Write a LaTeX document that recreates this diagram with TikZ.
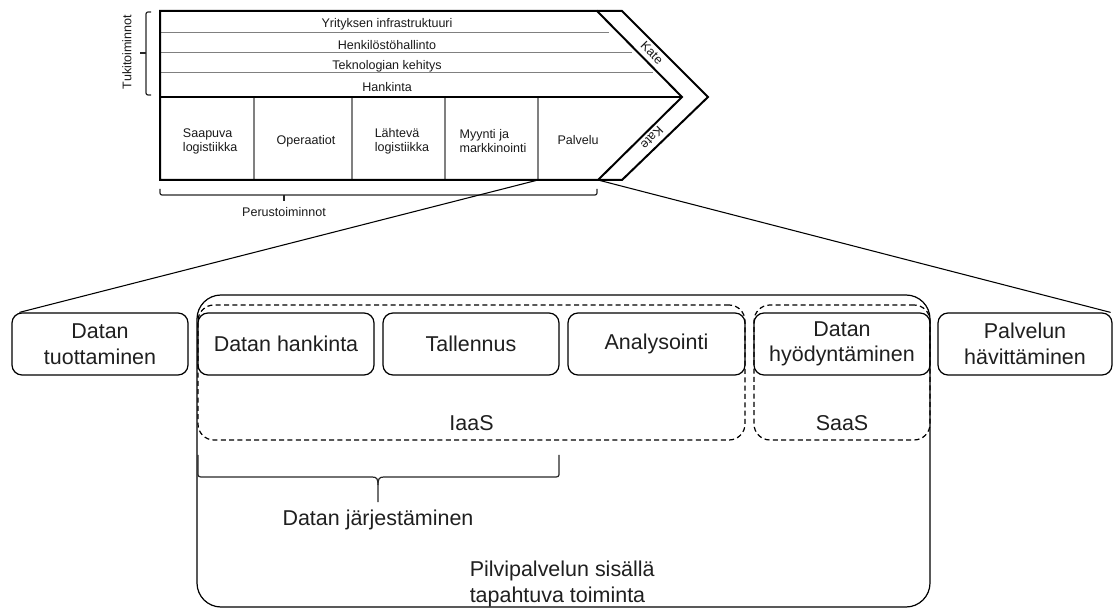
\documentclass[tikz,border=0pt]{standalone}
\usepackage{fontspec}
\setmainfont{Liberation Sans}
\begin{document}
\begin{tikzpicture}[x=0.75pt,y=-0.75pt,
  chain/.style={line width=1.5pt, line join=miter},
  rule/.style={draw=black!50, line width=0.8pt},
  small/.style={font=\fontsize{9.4}{10.5}\selectfont, inner sep=0pt, text=black!90},
  big/.style={font=\fontsize{16.1}{19.2}\selectfont, inner sep=0pt, text=black!88},
  stage/.style={big, draw, rounded corners=7.5pt, line width=0.9pt,
    minimum width=132pt, minimum height=46.5pt, align=center},
  group/.style={draw, line width=0.9pt, dash pattern=on 3.75pt off 2.5pt,
    rounded corners=12pt, inner sep=0pt},
  brace/.style={line width=0.9pt, draw=black!85},
  link/.style={line width=0.8pt}]
\useasboundingbox (0,0) rectangle (1114,609);

% ---------- value chain ----------
\coordinate (tl) at (160,11);
\coordinate (ti) at (597,11);
\coordinate (tip) at (682,97);
\coordinate (bi) at (598,180);
\coordinate (bl) at (160,180);
\coordinate (ml) at (160,97);
\coordinate (pv) at (538,180);

% support activity rules
\draw[rule] (160,32.5) -- (609,32.5);
\draw[rule] (160,52.5) -- (632,52.5);
\draw[rule] (160,72.5) -- (653,72.5);
% primary activity dividers
\foreach \x in {254,352,445,538} \draw[rule] (\x,97) -- (\x,180);

% outline and margin chevron
\draw[chain] (tl) -- (ti) -- (tip) -- (bi) -- (bl) -- cycle;
\draw[chain] (ml) -- (tip);
\draw[chain] (ti) -- (622,11) -- (708,97) -- (622,180) -- (bi);

\node[small] (s1) at (387,24) {Yrityksen infrastruktuuri};
\node[small] (s2) at (387,45) {Henkilöstöhallinto};
\node[small] (s3) at (387,66) {Teknologian kehitys};
\node[small] (s4) at (387,87) {Hankinta};

\node[small, anchor=west, align=left] (p1) at (182.7,141.5) {Saapuva\\logistiikka};
\node[small] (p2) at (306,141.5) {Operaatiot};
\node[small, anchor=west, align=left] (p3) at (374.5,141.5) {Lähtevä\\logistiikka};
\node[small, anchor=west, align=left] (p4) at (459.3,141) {Myynti ja\\markkinointi};
\node[small, anchor=west] (p5) at (557.3,140) {Palvelu};

\node[small, rotate=-45] (k1) at (652,53) {Kate};
\node[small, rotate=-135] (k2) at (652,138) {Kate};

% braces of the value chain
\draw[brace, rounded corners=1.5pt] (151,12) -- (146,12) -- (146,95) -- (151,95);
\draw[brace] (146,53) -- (140,53);
\node[small, rotate=90] (tuki) at (127,52) {Tukitoiminnot};

\draw[brace, rounded corners=1.5pt] (160,189) -- (160,195) -- (597,195) -- (597,189);
\draw[brace] (284,195) -- (284,201);
\node[small] (perus) at (284,212) {Perustoiminnot};

% ---------- data life cycle ----------
\node[draw, line width=0.9pt, rounded corners=18pt, minimum width=549.75pt,
  minimum height=234pt, inner sep=0pt] (cloud) at (563.5,451) {};
\node[group, minimum width=410.25pt, minimum height=101.25pt] (iaas) at (471.5,372.5) {};
\node[group, minimum width=132pt, minimum height=101.25pt] (saas) at (842,372.5) {};

\node[stage] (tuot) at (100,344) {Datan\\tuottaminen};
\node[stage] (hank) at (286,344) {Datan hankinta};
\node[stage] (tall) at (471,344) {Tallennus};
\node[stage, minimum width=132.75pt] (anal) at (656.5,344) {Analysointi};
\node[stage] (hyod) at (842,344) {Datan\\hyödyntäminen};
\node[stage, minimum width=130.5pt] (havi) at (1025,344) {Palvelun\\hävittäminen};

\node[big] (iaasl) at (471.5,423) {IaaS};
\node[big] (saasl) at (842,423) {SaaS};

% brace under the first three stages
\draw[brace] (198,455) -- (198,472) .. controls (198,477) .. (204,477) -- (372,477)
  .. controls (377,477) and (378,479) .. (378,485) -- (378,502);
\draw[brace] (559,455) -- (559,472) .. controls (559,477) .. (553,477) -- (384,477)
  .. controls (379,477) and (378,479) .. (378,485);
\node[big] (jarj) at (378,520) {Datan järjestäminen};

\node[big, anchor=west, align=left] (pilvi) at (469.5,584) {Pilvipalvelun sisällä\\tapahtuva toiminta};

% zoom lines from the service step
\draw[link] (pv) -- ([xshift=6pt]tuot.north west);
\draw[link] (bi) -- ([xshift=-1.5pt]havi.north east);
\end{tikzpicture}
\end{document}
